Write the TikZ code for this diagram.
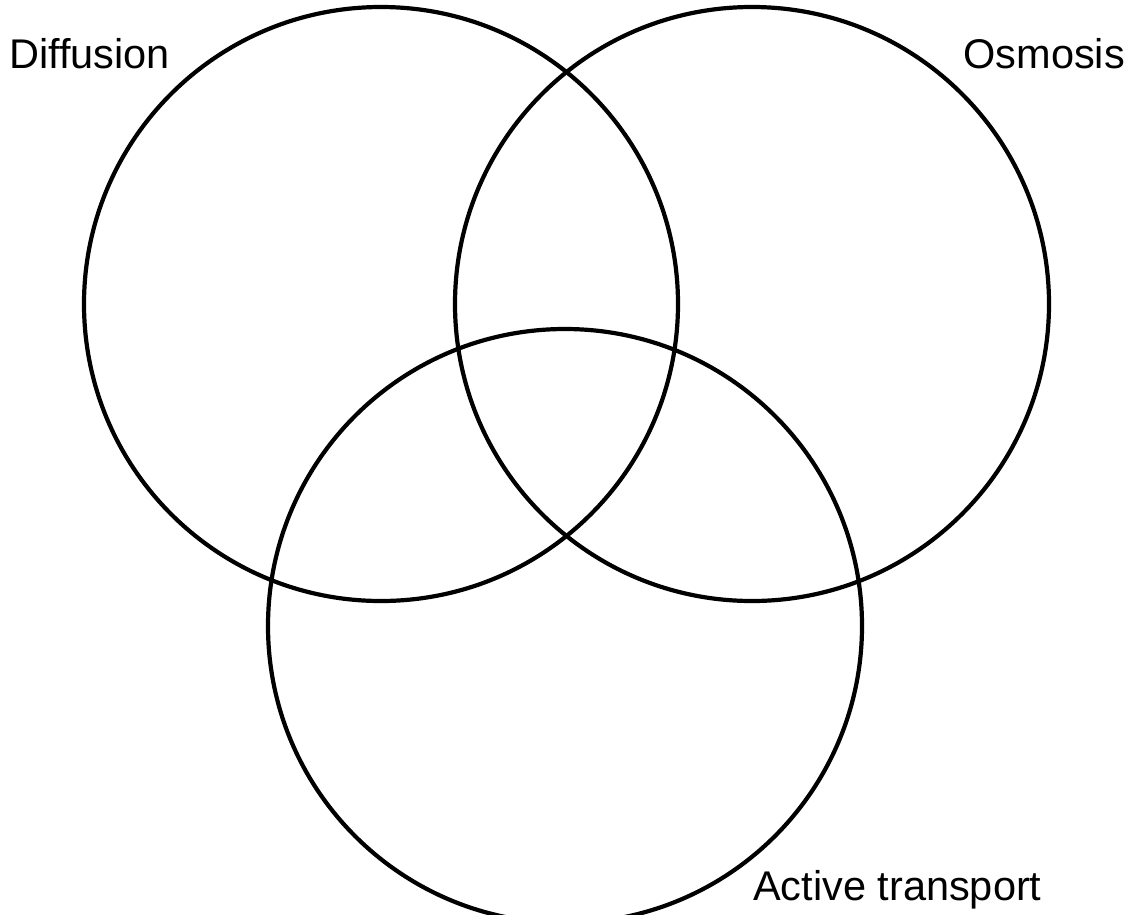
\documentclass[tikz,border=0pt]{standalone}
\usepackage{fontspec}
\setmainfont{Liberation Sans}
\usetikzlibrary{positioning}

\begin{document}
\begin{tikzpicture}[x=1pt,y=-1pt,
  set/.style={draw,circle,line width=4.2pt,minimum size=594pt,inner sep=0pt},
  lab/.style={inner sep=0pt,font=\fontsize{41.5}{48}\selectfont}]
\useasboundingbox (0,0) rectangle (1129,914);
\node[set] (diff) at (381,304) {};
\node[set] (osmo) at (752,304) {};
\node[set] (act) at (565,626) {};
\node[lab,anchor=base west] (difflab) at (9,68) {Diffusion};
\node[lab,anchor=base east] (osmolab) at (1125,68) {Osmosis};
\node[lab,anchor=base west] (actlab) at (753,900) {Active transport};
\end{tikzpicture}
\end{document}
